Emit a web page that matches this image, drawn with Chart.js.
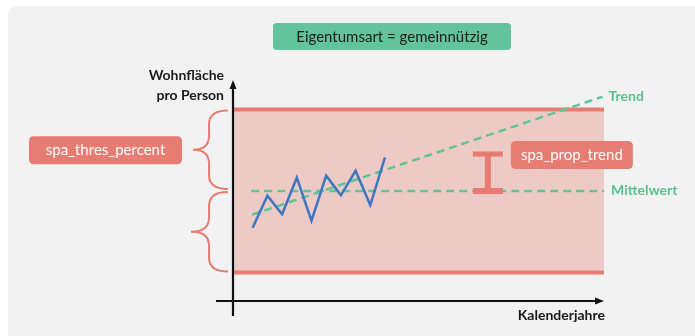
<!DOCTYPE html>
<html>
<head>
<meta charset="utf-8">
<script src="https://cdn.jsdelivr.net/npm/chart.js@4/dist/chart.umd.min.js"></script>
<style>
  html, body { margin: 0; padding: 0; background: #ffffff; }
  #wrap { position: relative; width: 695px; height: 336px; overflow: hidden; }
  canvas { display: block; }
</style>
</head>
<body>
<div id="wrap"><canvas id="c" width="695" height="336"></canvas></div>
<script>
// ---- data (conceptual units: calendar years / m² per person) ----
const years = [2010, 2011, 2012, 2013, 2014, 2015, 2016, 2017, 2018, 2019];
const livingSpace = [36.39, 39.54, 37.71, 41.31, 37.08, 41.50, 39.58, 41.99, 38.62, 43.31];
const meanValue = 40;
const thresPercent = 20;               // band = mean ± 20 %
const trendYears = [2009.95, 2033.8];
const trendValues = [37.67, 49.26];
const meanYears = [2009.9, 2033.9];
const bandYears = [2008.66, 2033.9];
const propTrendYear = 2026;
const propTrendValue = 43.63;
const axisRangeX = [2008.66, 2033.9];
const axisRangeY = [29.2, 50.9];
const titleText = 'Eigentumsart = gemeinnützig';
const yTitle = ['Wohnfläche', 'pro Person'];
const xTitle = 'Kalenderjahre';
const trendLabel = 'Trend';
const meanLabel = 'Mittelwert';
const thresLabel = 'spa_thres_percent';
const propLabel = 'spa_prop_trend';

// ---- colours ----
const CORAL = '#e67c72';
const PINK = '#eecac6';
const GREEN = '#5fc597';
const GREEN_TXT = '#5bbf8e';
const GREEN_BOX = '#63c39b';
const BLUE = '#3e77c0';
const PANEL = '#f2f2f2';
const FONT = 'Lato, "Open Sans", sans-serif';

const upper = meanValue * (1 + thresPercent / 100);
const lower = meanValue * (1 - thresPercent / 100);

function roundRect(ctx, x, y, w, h, r) {
  ctx.beginPath();
  ctx.moveTo(x + r, y);
  ctx.lineTo(x + w - r, y);
  ctx.quadraticCurveTo(x + w, y, x + w, y + r);
  ctx.lineTo(x + w, y + h - r);
  ctx.quadraticCurveTo(x + w, y + h, x + w - r, y + h);
  ctx.lineTo(x + r, y + h);
  ctx.quadraticCurveTo(x, y + h, x, y + h - r);
  ctx.lineTo(x, y + r);
  ctx.quadraticCurveTo(x, y, x + r, y);
  ctx.closePath();
}

function brace(ctx, xr, xm, xt, y0, y1, r) {
  const ym = (y0 + y1) / 2;
  ctx.beginPath();
  ctx.moveTo(xr, y0);
  ctx.quadraticCurveTo(xm, y0, xm, y0 + r);
  ctx.lineTo(xm, ym - r);
  ctx.quadraticCurveTo(xm, ym, xt, ym);
  ctx.quadraticCurveTo(xm, ym, xm, ym + r);
  ctx.lineTo(xm, y1 - r);
  ctx.quadraticCurveTo(xm, y1, xr, y1);
  ctx.stroke();
}

const decor = {
  id: 'decor',
  beforeDraw(chart) {
    const ctx = chart.ctx;
    ctx.save();
    ctx.fillStyle = '#ffffff';
    ctx.fillRect(0, 0, chart.width, chart.height);
    roundRect(ctx, 8, 6, chart.width + 20, chart.height + 20, 11);
    ctx.fillStyle = PANEL;
    ctx.fill();
    ctx.restore();
  },
  afterDatasetsDraw(chart) {
    const ctx = chart.ctx;
    const xs = chart.scales.x, ys = chart.scales.y;
    const a = chart.chartArea;
    ctx.save();

    // axes
    ctx.strokeStyle = '#111111';
    ctx.fillStyle = '#111111';
    ctx.lineWidth = 2.2;
    ctx.beginPath();
    ctx.moveTo(a.left, a.bottom + 15);
    ctx.lineTo(a.left, a.top + 6);
    ctx.moveTo(a.left - 17, a.bottom);
    ctx.lineTo(a.right - 6, a.bottom);
    ctx.stroke();
    ctx.beginPath();
    ctx.moveTo(a.left, a.top);
    ctx.lineTo(a.left - 3.5, a.top + 9);
    ctx.lineTo(a.left + 3.5, a.top + 9);
    ctx.closePath();
    ctx.fill();
    ctx.beginPath();
    ctx.moveTo(a.right, a.bottom);
    ctx.lineTo(a.right - 9, a.bottom - 3.5);
    ctx.lineTo(a.right - 9, a.bottom + 3.5);
    ctx.closePath();
    ctx.fill();

    // axis titles
    ctx.font = 'bold 14px ' + FONT;
    ctx.textBaseline = 'middle';
    ctx.textAlign = 'right';
    ctx.fillStyle = '#1a1a1a';
    ctx.fillText(yTitle[0], a.left - 9, 75);
    ctx.fillText(yTitle[1], a.left - 9, 95);
    ctx.fillText(xTitle, a.right + 1, a.bottom + 14);

    // series labels
    ctx.textAlign = 'left';
    ctx.fillStyle = GREEN_TXT;
    ctx.fillText(trendLabel, xs.getPixelForValue(trendYears[1]) + 6, ys.getPixelForValue(trendValues[1]));
    ctx.fillText(meanLabel, xs.getPixelForValue(meanYears[1]) + 7, ys.getPixelForValue(meanValue) - 1);

    // braces
    const yU = ys.getPixelForValue(upper);
    const yM = ys.getPixelForValue(meanValue);
    const yL = ys.getPixelForValue(lower);
    ctx.strokeStyle = CORAL;
    ctx.lineWidth = 2;
    brace(ctx, a.left - 5, a.left - 24, a.left - 40, yU + 1, yM - 2, 14);
    brace(ctx, a.left - 5, a.left - 24, a.left - 42, yM + 1, yL - 1, 14);

    // threshold label
    const tipY = (yU + yM) / 2;
    ctx.font = '15px ' + FONT;
    roundRect(ctx, 29, tipY - 14, 153, 28, 5);
    ctx.fillStyle = CORAL;
    ctx.fill();
    ctx.fillStyle = '#ffffff';
    ctx.textAlign = 'center';
    ctx.fillText(thresLabel, 29 + 153 / 2, tipY);

    // prop-trend marker (I-beam)
    const px = xs.getPixelForValue(propTrendYear);
    const pTop = ys.getPixelForValue(propTrendValue);
    ctx.fillStyle = CORAL;
    ctx.fillRect(px - 3, pTop, 6, yM - pTop);
    ctx.fillRect(px - 15, pTop - 2.5, 30, 5);
    ctx.fillRect(px - 15, yM - 3, 30, 6);

    // prop-trend label
    roundRect(ctx, px + 23, pTop - 13, 122, 28, 5);
    ctx.fill();
    ctx.fillStyle = '#ffffff';
    ctx.fillText(propLabel, px + 23 + 61, pTop + 1);

    // title box
    roundRect(ctx, 273, 23, 238, 27, 4);
    ctx.fillStyle = GREEN_BOX;
    ctx.fill();
    ctx.fillStyle = '#1c1c1c';
    ctx.fillText(titleText, 392, 37);

    ctx.restore();
  }
};

const seg = (xsArr, ysArr) => xsArr.map((x, i) => ({ x: x, y: ysArr[i] }));

new Chart(document.getElementById('c'), {
  type: 'scatter',
  data: {
    datasets: [
      { data: seg(bandYears, [upper, upper]), showLine: true, borderColor: CORAL, borderWidth: 4,
        pointRadius: 0, fill: '+1', backgroundColor: PINK, order: 5 },
      { data: seg(bandYears, [lower, lower]), showLine: true, borderColor: CORAL, borderWidth: 4,
        pointRadius: 0, fill: false, order: 4 },
      { data: seg(meanYears, [meanValue, meanValue]), showLine: true, borderColor: GREEN, borderWidth: 2.5,
        borderDash: [8, 5], pointRadius: 0, order: 3 },
      { data: seg(trendYears, trendValues), showLine: true, borderColor: GREEN, borderWidth: 2.5,
        borderDash: [8, 5], pointRadius: 0, order: 2 },
      { data: seg(years, livingSpace), showLine: true, borderColor: BLUE, borderWidth: 2.5,
        pointRadius: 0, tension: 0, order: 1 }
    ]
  },
  options: {
    responsive: false,
    animation: false,
    devicePixelRatio: 1,
    layout: { padding: { left: 233, right: 91, top: 80, bottom: 35 } },
    plugins: { legend: { display: false }, tooltip: { enabled: false } },
    scales: {
      x: { type: 'linear', min: axisRangeX[0], max: axisRangeX[1], display: false },
      y: { type: 'linear', min: axisRangeY[0], max: axisRangeY[1], display: false }
    }
  },
  plugins: [decor]
});
</script>
</body>
</html>
